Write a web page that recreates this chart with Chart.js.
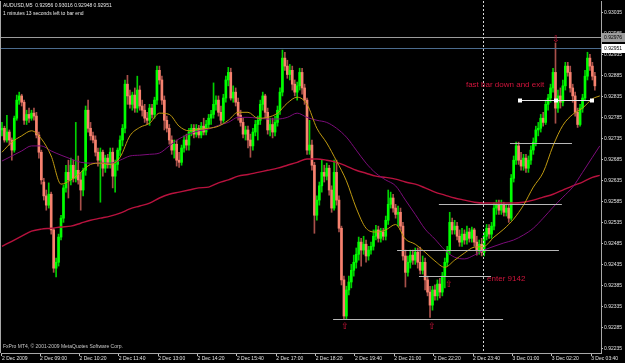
<!DOCTYPE html>
<html>
<head>
<meta charset="utf-8">
<title>AUDUSD,M5</title>
<script src="https://cdn.jsdelivr.net/npm/chart.js@4.4.1/dist/chart.umd.min.js"></script>
<style>
    html, body { margin: 0; padding: 0; background: #000; }
    #wrap { position: relative; width: 625px; height: 363px; background: #000; overflow: hidden; }
    #chart { display: block; }
    .mt-text { position: absolute; left: 3px; color: #e8e8e8; font-family: "Liberation Sans", Arial, sans-serif; font-size: 5px; line-height: 7.5px; white-space: nowrap; }
</style>
</head>
<body>
<div id="wrap">
    <canvas id="chart" width="625" height="363"></canvas>
    <div class="mt-text" style="top:2px">AUDUSD,M5&nbsp;&nbsp;0.92956 0.93016 0.92948 0.92951<br>1 minutes 13 seconds left to bar end</div>
    <div class="mt-text" style="top:343px;color:#c8c8c8">FxPro MT4, © 2001-2009 MetaQuotes Software Corp.</div>
</div>
<script>
// prices are kept in broker points (1 point = 0.00001)
const POINT = 0.00001;

const opens = [
    92755,92759,92731,92750,92731,92707,92783,92826,92836,92821,
    92778,92792,92783,92795,92788,92743,92702,92631,92598,92576,
    92602,92517,92426,92440,92500,92545,92617,92654,92636,92671,
    92640,92659,92636,92612,92659,92802,92759,92741,92731,92702,
    92683,92702,92664,92688,92673,92702,92645,92673,92707,92731,
    92759,92864,92836,92816,92838,92807,92850,92812,92802,92783,
    92778,92807,92792,92826,92897,92874,92826,92778,92759,92731,
    92707,92721,92683,92678,92712,92731,92719,92750,92759,92745,
    92759,92743,92764,92750,92768,92783,92792,92816,92826,92797,
    92778,92831,92874,92892,92831,92845,92821,92790,92773,92745,
    92755,92731,92717,92750,92768,92778,92816,92836,92797,92755,
    92768,92750,92773,92802,92845,92926,92907,92887,92897,92864,
    92845,92860,92892,92855,92826,92707,92719,92671,92552,92588,
    92622,92654,92645,92664,92612,92569,92654,92588,92521,92398,
    92312,92374,92393,92421,92440,92459,92488,92469,92483,92455,
    92469,92478,92502,92517,92497,92512,92502,92540,92578,92593,
    92569,92554,92559,92526,92455,92416,92440,92457,92445,92464,
    92440,92421,92440,92398,92369,92338,92374,92360,92388,92369,
    92407,92440,92469,92535,92517,92526,92502,92488,92507,92493,
    92512,92497,92517,92488,92469,92483,92464,92502,92521,92507,
    92526,92569,92578,92564,92576,92559,92569,92545,92640,92683,
    92717,92683,92669,92688,92664,92683,92707,92726,92755,92759,
    92783,92773,92816,92831,92855,92892,92807,92836,92821,92860,
    92907,92892,92855,92836,92797,92768,92807,92831,92883,92926,
    92907,92883
];
const highs = [
    92773,92764,92790,92755,92736,92788,92838,92845,92840,92826,
    92802,92807,92802,92807,92797,92750,92707,92640,92612,92629,
    92607,92521,92450,92507,92552,92624,92671,92683,92688,92683,
    92773,92693,92654,92664,92812,92826,92773,92750,92741,92712,
    92712,92707,92695,92697,92712,92712,92683,92712,92741,92768,
    92874,92885,92850,92845,92855,92883,92860,92826,92816,92797,
    92816,92816,92833,92907,92907,92883,92836,92788,92768,92741,
    92731,92731,92702,92719,92741,92745,92759,92768,92768,92768,
    92766,92773,92783,92778,92792,92802,92867,92836,92836,92812,
    92840,92883,92904,92902,92860,92855,92831,92802,92783,92764,
    92764,92745,92759,92778,92788,92826,92845,92840,92807,92783,
    92783,92788,92812,92855,92945,92940,92921,92911,92907,92874,
    92869,92902,92902,92864,92831,92778,92731,92678,92598,92631,
    92683,92671,92676,92671,92622,92683,92683,92598,92526,92407,
    92383,92407,92435,92457,92474,92500,92497,92502,92493,92478,
    92488,92517,92528,92526,92521,92521,92550,92612,92607,92602,
    92578,92574,92569,92535,92469,92455,92469,92469,92474,92474,
    92476,92455,92450,92407,92383,92383,92386,92398,92402,92416,
    92450,92478,92559,92545,92540,92535,92517,92521,92517,92526,
    92521,92524,92521,92502,92493,92497,92512,92530,92530,92535,
    92581,92588,92588,92588,92583,92578,92578,92649,92693,92726,
    92726,92702,92697,92697,92693,92717,92736,92764,92773,92792,
    92797,92826,92840,92864,92902,92962,92850,92855,92874,92916,
    92916,92907,92864,92845,92807,92816,92840,92897,92940,92935,
    92916,92892
];
const lows = [
    92741,92726,92726,92719,92683,92702,92778,92816,92812,92768,
    92768,92773,92778,92778,92736,92688,92626,92588,92564,92569,
    92507,92416,92405,92431,92493,92535,92607,92593,92624,92631,
    92631,92626,92564,92598,92647,92750,92731,92724,92693,92669,
    92583,92645,92654,92664,92664,92617,92607,92659,92693,92717,
    92748,92816,92807,92802,92797,92797,92802,92788,92773,92768,
    92766,92783,92783,92816,92864,92816,92755,92750,92721,92697,
    92688,92669,92666,92671,92702,92707,92707,92741,92736,92738,
    92736,92736,92743,92743,92759,92768,92783,92802,92788,92768,
    92773,92821,92860,92826,92821,92812,92778,92764,92736,92731,
    92712,92690,92707,92741,92731,92768,92802,92783,92745,92741,
    92736,92741,92764,92792,92836,92897,92878,92874,92850,92836,
    92826,92850,92840,92816,92697,92697,92659,92509,92540,92576,
    92607,92631,92636,92600,92559,92564,92576,92512,92386,92305,
    92305,92362,92379,92407,92426,92445,92431,92459,92440,92445,
    92459,92469,92493,92488,92488,92493,92493,92530,92569,92559,
    92545,92526,92517,92445,92381,92407,92426,92435,92435,92426,
    92412,92412,92374,92360,92309,92326,92350,92350,92355,92360,
    92379,92431,92459,92507,92507,92493,92478,92478,92483,92483,
    92488,92488,92478,92457,92459,92455,92455,92493,92497,92497,
    92517,92554,92554,92554,92550,92550,92535,92540,92631,92673,
    92673,92659,92659,92654,92654,92673,92697,92717,92741,92750,
    92764,92768,92802,92821,92845,92771,92797,92807,92812,92850,
    92883,92845,92821,92788,92761,92764,92797,92826,92874,92897,
    92874,92850
];
const closes = [
    92759,92731,92750,92731,92707,92783,92826,92836,92821,92778,
    92792,92783,92795,92788,92743,92702,92636,92598,92576,92602,
    92517,92426,92440,92500,92545,92617,92654,92636,92671,92640,
    92659,92636,92612,92659,92802,92759,92741,92731,92702,92683,
    92702,92664,92688,92673,92702,92645,92673,92707,92731,92759,
    92864,92836,92816,92838,92807,92850,92812,92802,92783,92778,
    92807,92792,92826,92897,92874,92826,92778,92759,92731,92707,
    92721,92683,92678,92712,92731,92719,92750,92759,92745,92759,
    92743,92764,92750,92768,92783,92792,92816,92826,92797,92778,
    92831,92874,92892,92831,92845,92821,92790,92773,92745,92755,
    92731,92717,92750,92768,92778,92816,92836,92797,92755,92768,
    92750,92773,92802,92845,92926,92907,92887,92897,92864,92845,
    92860,92892,92855,92826,92707,92719,92671,92552,92588,92622,
    92654,92645,92664,92612,92569,92654,92588,92521,92398,92312,
    92374,92393,92421,92440,92459,92488,92469,92483,92455,92469,
    92478,92502,92517,92497,92512,92502,92540,92578,92593,92569,
    92554,92559,92526,92455,92416,92440,92457,92445,92464,92440,
    92421,92440,92398,92369,92338,92374,92360,92388,92369,92407,
    92440,92469,92535,92517,92526,92502,92488,92507,92493,92512,
    92497,92517,92488,92469,92483,92464,92502,92521,92507,92526,
    92569,92578,92564,92576,92559,92569,92545,92640,92683,92717,
    92683,92669,92688,92664,92683,92707,92726,92755,92759,92783,
    92773,92816,92831,92855,92892,92807,92836,92821,92860,92907,
    92892,92855,92836,92797,92768,92807,92831,92883,92926,92907,
    92883,92860
];

// moving averages at these bars
const maBars = [
    0,4,8,12,16,20,24,28,32,36,40,44,48,52,56,60,64,68,72,76,80,84,88,92,96,100,
    104,108,112,116,120,124,128,132,136,140,144,148,152,156,160,164,168,172,176,180,
    184,188,192,196,200,204,208,212,216,220,224,228,232,236,240,243
];
const maFast = [
    92702,92726,92741,92753,92734,92693,92626,92636,92654,92673,92676,92673,92690,92741,92761,92771,
    92795,92792,92764,92753,92757,92759,92764,92778,92797,92797,92783,92785,92795,92819,92833,92816,
    92759,92724,92681,92634,92569,92521,92512,92517,92530,92495,92483,92464,92443,92428,92445,92462,
    92476,92478,92500,92519,92543,92576,92619,92654,92717,92766,92792,92807,92829,92836
];
const maMid = [
    92681,92693,92705,92717,92717,92705,92695,92686,92678,92676,92676,92676,92683,92693,92695,92697,
    92700,92717,92734,92745,92753,92757,92766,92773,92785,92785,92783,92781,92781,92785,92795,92785,
    92778,92773,92759,92738,92707,92676,92652,92636,92622,92588,92554,92519,92495,92469,92452,92448,
    92457,92469,92478,92486,92493,92505,92521,92545,92571,92595,92619,92654,92690,92717
];
const maSlow = [
    92478,92490,92502,92514,92519,92521,92524,92526,92533,92540,92545,92550,92557,92567,92574,92581,
    92593,92602,92607,92612,92617,92619,92629,92636,92645,92649,92654,92659,92664,92671,92678,92686,
    92686,92683,92678,92669,92659,92652,92645,92642,92638,92631,92626,92617,92607,92600,92593,92588,
    92583,92581,92581,92581,92581,92583,92588,92595,92602,92612,92622,92631,92642,92647
];

const tickBars = [0, 15.5, 31.5, 47.5, 63.5, 79.5, 95.5, 111.5, 127.5, 143.5, 159.5, 175.5, 191.5, 207.5, 223.5, 239.5];
const tickLabels = [
    '2 Dec 2009', '2 Dec 09:00', '2 Dec 10:20', '2 Dec 11:40', '2 Dec 13:00', '2 Dec 14:20',
    '2 Dec 15:40', '2 Dec 17:00', '2 Dec 18:20', '2 Dec 19:40', '2 Dec 21:00', '2 Dec 22:20',
    '2 Dec 23:40', '3 Dec 01:00', '3 Dec 02:20', '3 Dec 03:40'
];
const priceTicks = [
    92235, 92285, 92335, 92385, 92435, 92485, 92535, 92585, 92635,
    92685, 92735, 92785, 92835, 92885, 92935, 92985, 93035
];

// chart objects: level lines, trend lines, vertical line, notes, arrows
const levelPoints = [92976, 92951];
const trendFrom = [210.6, 206.5, 177.6, 160.6, 169.5, 134.6];
const trendTo = [239.8, 231.7, 227.6, 226.4, 198.8, 203.7];
const trendPoints = [92826, 92724, 92578, 92469, 92407, 92305];
const vlineBar = 195.5;
const noteTexts = ['fast bar down and exit', 'enter 9142'];
const noteBars = [188.6, 197.2];
const notePoints = [92862, 92400];
const arrowGlyphs = ['\u21E9', '\u21E7', '\u21E7', '\u21E7'];
const arrowBars = [225.2, 181.7, 139.4, 174.8];
const arrowPoints = [92969, 92386, 92286, 92286];

const toPrice = p => p * POINT;
const isUp = i => closes[i] >= opens[i];
const UP = '#00ff00';
const DOWN = '#f7826f';
const FONT = '"Liberation Sans", Arial, sans-serif';

const bodyData = opens.map((o, i) => ({ x: i, y: [toPrice(Math.min(o, closes[i])), toPrice(Math.max(o, closes[i]))] }));
const wickData = opens.map((o, i) => ({ x: i, y: [toPrice(lows[i]), toPrice(highs[i])] }));

function maLine(values, color, width) {
    return {
        type: 'line',
        data: maBars.map((b, k) => ({ x: b, y: toPrice(values[k]) })),
        borderColor: color,
        borderWidth: width,
        pointRadius: 0,
        fill: false,
        cubicInterpolationMode: 'monotone'
    };
}

const objectsPlugin = {
    id: 'mtObjects',
    afterDatasetsDraw(chart) {
        const { ctx, chartArea: a } = chart;
        const X = b => chart.scales.x.getPixelForValue(b);
        const Y = p => chart.scales.y.getPixelForValue(toPrice(p));
        ctx.save();
        ctx.beginPath();
        ctx.rect(a.left, a.top, a.right - a.left, a.bottom - a.top);
        ctx.clip();
        ctx.lineWidth = 1;

        levelPoints.forEach((p, k) => {
            const yy = Math.round(Y(p)) + 0.5;
            ctx.strokeStyle = k === 0 ? '#9c9c9c' : '#4b6b8e';
            ctx.beginPath();
            ctx.moveTo(a.left, yy);
            ctx.lineTo(a.right, yy);
            ctx.stroke();
        });

        trendFrom.forEach((b0, k) => {
            const yy = Math.round(Y(trendPoints[k])) + 0.5;
            ctx.strokeStyle = k === 0 ? '#e6e6e6' : '#b8b8b8';
            ctx.beginPath();
            ctx.moveTo(X(b0), yy);
            ctx.lineTo(X(trendTo[k]), yy);
            ctx.stroke();
        });
        // the selected line shows its anchor squares
        const sy = Y(trendPoints[0]);
        ctx.fillStyle = '#ffffff';
        [trendFrom[0], (trendFrom[0] + trendTo[0]) / 2, trendTo[0]].forEach(b => {
            ctx.fillRect(Math.round(X(b)) - 2, Math.round(sy) - 1.5, 4, 4);
        });

        const vx = Math.round(X(vlineBar)) + 0.5;
        ctx.strokeStyle = '#d8d8d8';
        ctx.setLineDash([2, 2]);
        ctx.beginPath();
        ctx.moveTo(vx, a.top);
        ctx.lineTo(vx, a.bottom);
        ctx.stroke();
        ctx.setLineDash([]);

        ctx.fillStyle = '#d2143c';
        ctx.font = '8px ' + FONT;
        ctx.textAlign = 'left';
        ctx.textBaseline = 'middle';
        noteTexts.forEach((t, k) => ctx.fillText(t, X(noteBars[k]), Y(notePoints[k])));

        ctx.font = '9px "DejaVu Sans", sans-serif';
        ctx.textAlign = 'center';
        arrowGlyphs.forEach((g, k) => ctx.fillText(g, X(arrowBars[k]), Y(arrowPoints[k])));
        ctx.restore();
    },
    afterDraw(chart) {
        const { ctx, chartArea: a } = chart;
        const Y = p => chart.scales.y.getPixelForValue(toPrice(p));
        ctx.save();
        ctx.strokeStyle = '#a8a8a8';
        ctx.lineWidth = 1;
        ctx.beginPath();
        ctx.moveTo(a.left - 0.5, a.top);
        ctx.lineTo(a.left - 0.5, a.bottom);
        ctx.stroke();

        // price tags of the level lines on the axis
        ctx.font = '5px ' + FONT;
        ctx.textAlign = 'left';
        ctx.textBaseline = 'middle';
        levelPoints.forEach((p, k) => {
            const yy = Math.round(Y(p));
            ctx.fillStyle = k === 0 ? '#9c9c9c' : '#ffffff';
            ctx.fillRect(a.right + 1, yy - 4, 24, 9);
            ctx.fillStyle = '#000000';
            ctx.fillText(toPrice(p).toFixed(5), a.right + 3, yy + 0.5);
        });
        ctx.restore();
    }
};

new Chart(document.getElementById('chart').getContext('2d'), {
    type: 'bar',
    data: {
        datasets: [
            maLine(maFast, '#c09a10', 1),
            maLine(maMid, '#7c0c7a', 1),
            maLine(maSlow, '#b8123e', 1.4),
            {
                type: 'bar',
                data: bodyData,
                backgroundColor: ctx => isUp(ctx.dataIndex) ? UP : DOWN,
                barThickness: 2,
                grouped: false,
                borderWidth: 0
            },
            {
                type: 'bar',
                data: wickData,
                backgroundColor: ctx => isUp(ctx.dataIndex) ? '#00d000' : '#a8504a',
                barThickness: 1,
                grouped: false,
                borderWidth: 0
            }
        ]
    },
    options: {
        responsive: false,
        animation: false,
        events: [],
        layout: { padding: { left: 1, top: 1, right: 0, bottom: 0 } },
        plugins: { legend: { display: false }, tooltip: { enabled: false } },
        scales: {
            x: {
                type: 'linear',
                position: 'bottom',
                min: -0.4,
                max: 243.5,
                offset: false,
                afterBuildTicks: s => { s.ticks = tickBars.map(v => ({ value: v })); },
                afterFit: s => { s.height = 10; s.paddingLeft = 0; s.paddingRight = 0; },
                ticks: {
                    autoSkip: false,
                    maxRotation: 0,
                    minRotation: 0,
                    align: 'start',
                    padding: 0,
                    color: '#e0e0e0',
                    font: { family: FONT, size: 5 },
                    callback: (v, idx) => tickLabels[idx]
                },
                grid: { drawOnChartArea: false, offset: false, tickLength: 3, color: '#c0c0c0' },
                border: { display: true, color: '#a8a8a8' }
            },
            y: {
                type: 'linear',
                position: 'right',
                min: 0.92224,
                max: 0.93062,
                afterBuildTicks: s => { s.ticks = priceTicks.map(p => ({ value: toPrice(p) })); },
                afterFit: s => { s.width = 24; s.paddingTop = 0; s.paddingBottom = 0; },
                ticks: {
                    padding: 1,
                    color: '#e0e0e0',
                    font: { family: FONT, size: 5 },
                    callback: v => v.toFixed(5)
                },
                grid: { drawOnChartArea: false, tickLength: 2, color: '#c0c0c0' },
                border: { display: true, color: '#a8a8a8' }
            }
        }
    },
    plugins: [objectsPlugin]
});
</script>
</body>
</html>
